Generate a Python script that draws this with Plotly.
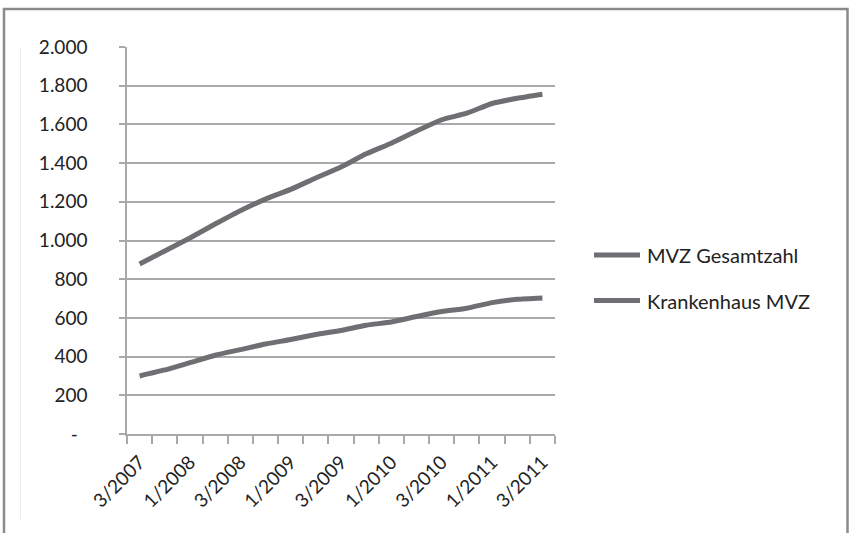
import plotly.graph_objects as go

# Quarterly counts of medical care centres (MVZ), Q3/2007 - Q3/2011
quarters = [
    "3/2007", "4/2007",
    "1/2008", "2/2008", "3/2008", "4/2008",
    "1/2009", "2/2009", "3/2009", "4/2009",
    "1/2010", "2/2010", "3/2010", "4/2010",
    "1/2011", "2/2011", "3/2011",
]
mvz_total = [879, 946, 1013, 1085, 1154, 1214, 1264, 1323, 1380, 1448,
             1503, 1566, 1624, 1658, 1708, 1735, 1756]
mvz_hospital = [300, 331, 369, 407, 436, 465, 488, 514, 535, 562,
                579, 607, 633, 650, 679, 696, 703]

series_names = ["MVZ Gesamtzahl", "Krankenhaus MVZ"]

# every second quarter is labelled on the x axis
x_label_idx = list(range(0, len(quarters), 2))
x_labels = [quarters[i] for i in x_label_idx]

y_ticks = [0, 200, 400, 600, 800, 1000, 1200, 1400, 1600, 1800, 2000]
y_labels = ["-\u00a0\u00a0", "200", "400", "600", "800", "1.000", "1.200",
            "1.400", "1.600", "1.800", "2.000"]

W, H = 849, 533
ML, MR, MT, MB = 127, 294, 47, 99
PW, PH = W - ML - MR, H - MT - MB

LINE_COLOR = "#6f6f73"
GRID_COLOR = "#a9a9a9"
TEXT_COLOR = "#222222"
FONT = "Lato, 'Open Sans', sans-serif"


def px_x(px):
    return (px - ML) / PW


def px_y(py):
    return (H - MB - py) / PH


x = list(range(len(quarters)))

fig = go.Figure()
for name, values in zip(series_names, [mvz_total, mvz_hospital]):
    fig.add_trace(go.Scatter(
        x=x, y=values, name=name, mode="lines",
        line=dict(color=LINE_COLOR, width=5, shape="spline", smoothing=0.5),
        showlegend=False,
        hovertext=quarters,
    ))

shapes = []
annotations = []

# outer chart frame
shapes.append(dict(type="rect", xref="paper", yref="paper",
                   x0=px_x(4), x1=px_x(847.5), y0=px_y(560), y1=px_y(9),
                   line=dict(color="#8a8a8a", width=2.5), fillcolor="rgba(0,0,0,0)",
                   layer="below"))
# faint inner border line
shapes.append(dict(type="line", xref="paper", yref="paper",
                   x0=px_x(20.5), x1=px_x(20.5), y0=px_y(519), y1=px_y(48),
                   line=dict(color="#ececec", width=1), layer="below"))

# legend drawn as short line samples with labels
legend_y = [255, 300.5]
for name, ly in zip(series_names, legend_y):
    shapes.append(dict(type="line", xref="paper", yref="paper",
                       x0=px_x(594), x1=px_x(640), y0=px_y(ly), y1=px_y(ly),
                       line=dict(color=LINE_COLOR, width=5)))
    annotations.append(dict(xref="paper", yref="paper", x=px_x(645), y=px_y(ly),
                            text=name, showarrow=False, xanchor="left",
                            yanchor="middle",
                            font=dict(family=FONT, size=20, color=TEXT_COLOR)))

fig.update_layout(
    width=W, height=H,
    margin=dict(l=ML, r=MR, t=MT, b=MB, autoexpand=False),
    paper_bgcolor="white", plot_bgcolor="white",
    font=dict(family=FONT, size=19, color=TEXT_COLOR),
    shapes=shapes,
    annotations=annotations,
    showlegend=False,
)

fig.update_xaxes(
    range=[-0.5, len(quarters) - 0.5],
    tickmode="array", tickvals=x_label_idx, ticktext=x_labels,
    tickangle=-45, ticks="", ticklabelstandoff=8,
    showgrid=False, zeroline=False,
    showline=True, linecolor=GRID_COLOR, linewidth=1.5,
    minor=dict(tickmode="array",
               tickvals=[i - 0.5 for i in range(len(quarters) + 1)],
               ticks="outside", ticklen=8, tickwidth=1.5,
               tickcolor=GRID_COLOR, showgrid=False),
    fixedrange=True,
)

fig.update_yaxes(
    range=[0, 2000],
    tickmode="array", tickvals=y_ticks, ticktext=y_labels,
    ticks="outside", ticklen=6, tickwidth=1.5, tickcolor=GRID_COLOR,
    ticklabelstandoff=28,
    showgrid=True, gridcolor=GRID_COLOR, gridwidth=1.5,
    zeroline=False,
    showline=True, linecolor=GRID_COLOR, linewidth=1.5,
    fixedrange=True,
)

fig.write_html("out.html")
